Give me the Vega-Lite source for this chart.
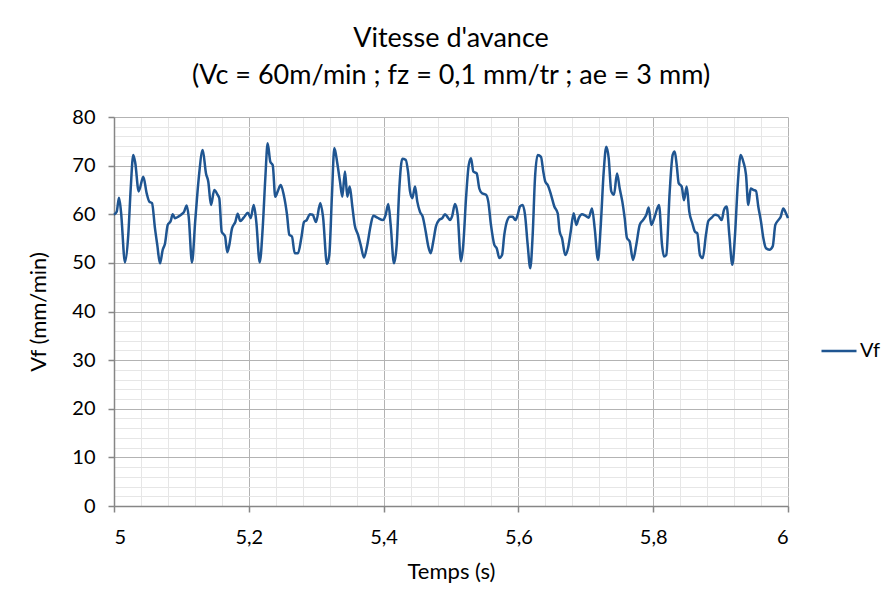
{
  "$schema": "https://vega.github.io/schema/vega-lite/v6.json",
  "width": 674,
  "height": 389,
  "autosize": {"type": "none"},
  "padding": {"left": 114, "top": 117, "right": 100, "bottom": 100},
  "background": "white",
  "config": {
    "view": {"stroke": null},
    "font": "Lato",
    "axis": {"labelFont": "Lato", "titleFont": "Lato", "labelColor": "#000000", "titleColor": "#000000", "titleFontWeight": "normal"}
  },
  "title": {
    "text": ["Vitesse d'avance", "(Vc = 60m/min ; fz = 0,1 mm/tr ; ae = 3 mm)"],
    "fontSize": 27,
    "fontWeight": "normal",
    "font": "Lato",
    "color": "#000000",
    "lineHeight": 37,
    "anchor": "middle",
    "offset": 17
  },
  "data": {"values": [
    {"t":5.0000,"v":59.9},{"t":5.0040,"v":60.5},{"t":5.0074,"v":63.4},{"t":5.0104,"v":60.5},{"t":5.0163,"v":50.1},{"t":5.0212,"v":55.8},{"t":5.0248,"v":65.3},{"t":5.0286,"v":72.2},{"t":5.0316,"v":70.5},{"t":5.0366,"v":64.7},{"t":5.0435,"v":67.7},{"t":5.0485,"v":64.3},{"t":5.0524,"v":62.6},{"t":5.0564,"v":62.3},{"t":5.0608,"v":57.1},{"t":5.0642,"v":53.7},{"t":5.0682,"v":49.9},{"t":5.0723,"v":52.7},{"t":5.0757,"v":54.0},{"t":5.0797,"v":57.8},{"t":5.0841,"v":58.6},{"t":5.0871,"v":60.0},{"t":5.0905,"v":59.2},{"t":5.0954,"v":59.5},{"t":5.1004,"v":60.0},{"t":5.1039,"v":60.5},{"t":5.1079,"v":61.8},{"t":5.1108,"v":59.5},{"t":5.1157,"v":50.1},{"t":5.1206,"v":58.8},{"t":5.1257,"v":67.4},{"t":5.1316,"v":73.2},{"t":5.1365,"v":68.4},{"t":5.1399,"v":66.7},{"t":5.1439,"v":61.9},{"t":5.1488,"v":65.0},{"t":5.1533,"v":64.1},{"t":5.1562,"v":63.3},{"t":5.1598,"v":56.4},{"t":5.1647,"v":55.5},{"t":5.1681,"v":52.2},{"t":5.1711,"v":53.7},{"t":5.1751,"v":57.1},{"t":5.1800,"v":58.4},{"t":5.1835,"v":60.1},{"t":5.1874,"v":58.6},{"t":5.1924,"v":59.3},{"t":5.1988,"v":60.3},{"t":5.2028,"v":59.2},{"t":5.2073,"v":61.9},{"t":5.2111,"v":58.5},{"t":5.2162,"v":50.1},{"t":5.2206,"v":57.1},{"t":5.2245,"v":67.4},{"t":5.2280,"v":74.6},{"t":5.2319,"v":70.8},{"t":5.2355,"v":70.1},{"t":5.2393,"v":63.6},{"t":5.2429,"v":64.7},{"t":5.2473,"v":66.0},{"t":5.2518,"v":64.0},{"t":5.2567,"v":59.9},{"t":5.2601,"v":55.8},{"t":5.2641,"v":55.4},{"t":5.2681,"v":52.0},{"t":5.2730,"v":52.0},{"t":5.2779,"v":55.1},{"t":5.2819,"v":58.4},{"t":5.2859,"v":58.8},{"t":5.2908,"v":60.0},{"t":5.2948,"v":59.9},{"t":5.2997,"v":58.4},{"t":5.3061,"v":62.3},{"t":5.3101,"v":59.5},{"t":5.3160,"v":49.8},{"t":5.3194,"v":51.6},{"t":5.3234,"v":64.0},{"t":5.3269,"v":73.6},{"t":5.3313,"v":70.5},{"t":5.3353,"v":66.7},{"t":5.3387,"v":63.6},{"t":5.3427,"v":68.8},{"t":5.3462,"v":63.6},{"t":5.3497,"v":65.7},{"t":5.3536,"v":61.6},{"t":5.3571,"v":57.8},{"t":5.3620,"v":55.8},{"t":5.3660,"v":53.7},{"t":5.3709,"v":51.1},{"t":5.3758,"v":53.7},{"t":5.3809,"v":57.8},{"t":5.3847,"v":59.7},{"t":5.3907,"v":59.3},{"t":5.3991,"v":58.8},{"t":5.4031,"v":59.9},{"t":5.4070,"v":62.1},{"t":5.4105,"v":57.8},{"t":5.4154,"v":49.9},{"t":5.4194,"v":53.7},{"t":5.4233,"v":65.3},{"t":5.4277,"v":71.4},{"t":5.4328,"v":71.2},{"t":5.4362,"v":68.8},{"t":5.4392,"v":64.7},{"t":5.4426,"v":63.3},{"t":5.4466,"v":65.7},{"t":5.4500,"v":62.6},{"t":5.4540,"v":60.5},{"t":5.4580,"v":59.5},{"t":5.4625,"v":56.4},{"t":5.4663,"v":53.4},{"t":5.4699,"v":52.0},{"t":5.4737,"v":54.4},{"t":5.4777,"v":57.5},{"t":5.4822,"v":58.8},{"t":5.4871,"v":59.2},{"t":5.4911,"v":60.0},{"t":5.4955,"v":59.3},{"t":5.4985,"v":58.8},{"t":5.5015,"v":59.5},{"t":5.5059,"v":62.1},{"t":5.5099,"v":59.9},{"t":5.5148,"v":50.3},{"t":5.5182,"v":53.7},{"t":5.5223,"v":63.3},{"t":5.5263,"v":70.1},{"t":5.5297,"v":71.5},{"t":5.5331,"v":68.8},{"t":5.5381,"v":68.4},{"t":5.5420,"v":65.3},{"t":5.5460,"v":64.3},{"t":5.5519,"v":64.0},{"t":5.5553,"v":62.6},{"t":5.5593,"v":57.8},{"t":5.5643,"v":53.7},{"t":5.5678,"v":53.0},{"t":5.5717,"v":51.0},{"t":5.5757,"v":51.6},{"t":5.5791,"v":55.8},{"t":5.5831,"v":58.6},{"t":5.5875,"v":59.5},{"t":5.5915,"v":59.5},{"t":5.5954,"v":58.8},{"t":5.5990,"v":59.9},{"t":5.6024,"v":61.6},{"t":5.6064,"v":61.9},{"t":5.6098,"v":59.9},{"t":5.6138,"v":53.7},{"t":5.6176,"v":48.9},{"t":5.6212,"v":55.8},{"t":5.6246,"v":67.4},{"t":5.6286,"v":72.2},{"t":5.6335,"v":71.8},{"t":5.6369,"v":68.8},{"t":5.6399,"v":66.7},{"t":5.6435,"v":66.0},{"t":5.6484,"v":64.0},{"t":5.6533,"v":61.6},{"t":5.6583,"v":60.2},{"t":5.6613,"v":56.4},{"t":5.6647,"v":55.1},{"t":5.6696,"v":51.6},{"t":5.6736,"v":53.0},{"t":5.6776,"v":56.4},{"t":5.6820,"v":60.2},{"t":5.6859,"v":57.8},{"t":5.6895,"v":59.2},{"t":5.6944,"v":60.0},{"t":5.6993,"v":59.7},{"t":5.7043,"v":59.3},{"t":5.7092,"v":61.2},{"t":5.7132,"v":57.1},{"t":5.7181,"v":50.6},{"t":5.7221,"v":57.5},{"t":5.7266,"v":68.8},{"t":5.7304,"v":73.9},{"t":5.7340,"v":71.5},{"t":5.7378,"v":64.7},{"t":5.7418,"v":64.0},{"t":5.7463,"v":68.4},{"t":5.7503,"v":65.3},{"t":5.7542,"v":62.6},{"t":5.7577,"v":59.2},{"t":5.7611,"v":55.1},{"t":5.7651,"v":54.4},{"t":5.7700,"v":50.6},{"t":5.7749,"v":53.7},{"t":5.7800,"v":57.8},{"t":5.7849,"v":58.8},{"t":5.7898,"v":59.9},{"t":5.7933,"v":61.4},{"t":5.7972,"v":57.8},{"t":5.8022,"v":59.5},{"t":5.8086,"v":61.9},{"t":5.8131,"v":53.7},{"t":5.8160,"v":51.3},{"t":5.8194,"v":51.6},{"t":5.8245,"v":64.7},{"t":5.8289,"v":72.2},{"t":5.8319,"v":72.9},{"t":5.8349,"v":70.1},{"t":5.8378,"v":66.4},{"t":5.8423,"v":65.7},{"t":5.8457,"v":62.9},{"t":5.8497,"v":65.7},{"t":5.8536,"v":60.5},{"t":5.8580,"v":58.2},{"t":5.8620,"v":56.4},{"t":5.8654,"v":56.1},{"t":5.8694,"v":51.6},{"t":5.8735,"v":51.0},{"t":5.8783,"v":55.8},{"t":5.8818,"v":58.6},{"t":5.8868,"v":59.3},{"t":5.8917,"v":59.9},{"t":5.8966,"v":59.7},{"t":5.9016,"v":58.8},{"t":5.9050,"v":60.9},{"t":5.9090,"v":61.6},{"t":5.9129,"v":55.8},{"t":5.9174,"v":49.6},{"t":5.9214,"v":55.8},{"t":5.9254,"v":66.0},{"t":5.9298,"v":72.2},{"t":5.9337,"v":70.8},{"t":5.9377,"v":68.1},{"t":5.9411,"v":61.9},{"t":5.9447,"v":65.3},{"t":5.9485,"v":65.0},{"t":5.9525,"v":64.8},{"t":5.9559,"v":61.6},{"t":5.9599,"v":58.5},{"t":5.9634,"v":55.1},{"t":5.9674,"v":53.0},{"t":5.9723,"v":52.7},{"t":5.9773,"v":53.4},{"t":5.9812,"v":57.8},{"t":5.9857,"v":58.8},{"t":5.9892,"v":59.5},{"t":5.9930,"v":61.2},{"t":5.9970,"v":60.2},{"t":6.0000,"v":59.2}
  ]},
  "resolve": {"axis": {"x": "independent", "y": "independent"}},
  "layer": [
    {
      "mark": {"type": "line", "strokeOpacity": 0},
      "encoding": {
        "x": {"field": "t", "type": "quantitative", "scale": {"domain": [5, 6], "nice": false, "zero": false},
          "axis": {"orient": "top", "values": [5,5.04,5.08,5.12,5.16,5.2,5.24,5.28,5.32,5.36,5.4,5.44,5.48,5.52,5.56,5.6,5.64,5.68,5.72,5.76,5.8,5.84,5.88,5.92,5.96,6],
            "grid": true, "gridColor": "#e6e6e6", "gridWidth": 1, "labels": false, "ticks": false, "domain": false, "title": null}},
        "y": {"field": "v", "type": "quantitative", "scale": {"domain": [0, 80], "nice": false},
          "axis": {"orient": "right", "values": [0,2,4,6,8,10,12,14,16,18,20,22,24,26,28,30,32,34,36,38,40,42,44,46,48,50,52,54,56,58,60,62,64,66,68,70,72,74,76,78,80],
            "grid": true, "gridColor": "#e6e6e6", "gridWidth": 1, "labels": false, "ticks": false, "domain": false, "title": null}}
      }
    },
    {
      "mark": {"type": "line", "interpolate": "monotone", "strokeWidth": 2.5},
      "encoding": {
        "x": {"field": "t", "type": "quantitative", "scale": {"domain": [5, 6], "nice": false, "zero": false},
          "axis": {"orient": "bottom", "values": [5, 5.2, 5.4, 5.6, 5.8, 6], "grid": true, "gridColor": "#b3b3b3", "gridWidth": 1,
            "domain": true, "domainColor": "#868686", "domainWidth": 1.5, "tickColor": "#868686", "tickSize": 6, "tickWidth": 1.5,
            "labelExpr": "replace(format(datum.value, '~g'), '.', ',')", "labelFontSize": 20, "labelPadding": 15,
            "title": "Temps (s)", "titleFontSize": 22, "titlePadding": 14}},
        "y": {"field": "v", "type": "quantitative", "scale": {"domain": [0, 80], "nice": false},
          "axis": {"orient": "left", "values": [0, 10, 20, 30, 40, 50, 60, 70, 80], "grid": true, "gridColor": "#b3b3b3", "gridWidth": 1,
            "domain": true, "domainColor": "#868686", "domainWidth": 1.5, "tickColor": "#868686", "tickSize": 6, "tickWidth": 1.5,
            "labelFontSize": 20, "labelPadding": 13,
            "title": "Vf (mm/min)", "titleFontSize": 22, "titlePadding": 21}},
        "color": {"datum": "Vf", "type": "nominal", "scale": {"range": ["#1f5591"]},
          "legend": {"title": null, "orient": "none", "legendX": 706, "legendY": 215, "symbolType": "stroke", "symbolSize": 1225, "symbolStrokeWidth": 2.5, "labelFontSize": 20, "labelFont": "Lato", "labelColor": "#000000", "labelOffset": 2}}
      }
    }
  ]
}
